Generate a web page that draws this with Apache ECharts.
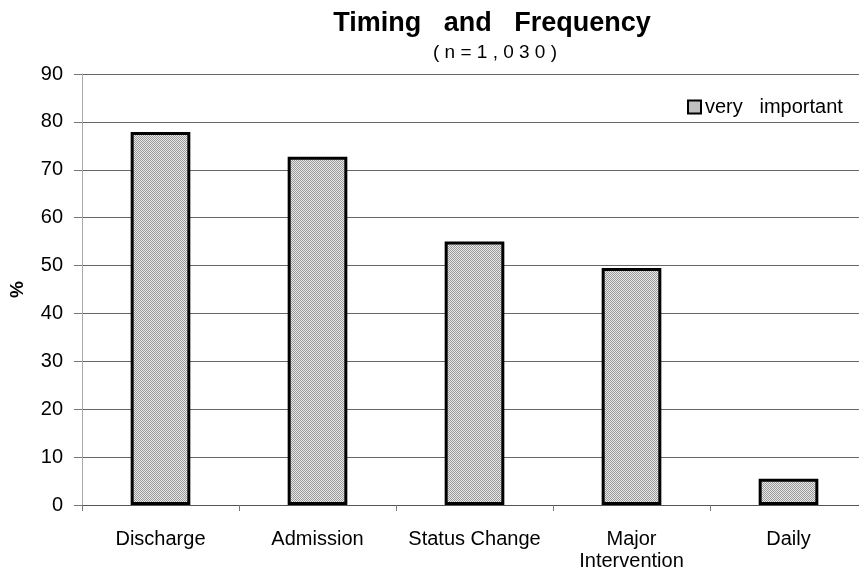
<!DOCTYPE html>
<html>
<head>
<meta charset="utf-8">
<title>Timing and Frequency</title>
<script src="https://cdn.jsdelivr.net/npm/echarts@6/dist/echarts.min.js"></script>
<style>
  html, body { margin: 0; padding: 0; background: #fff; }
  #chart { width: 859px; height: 578px; }
</style>
</head>
<body>
<div id="chart"></div>
<script>
// Survey categories and share of respondents rating each as "very important"
const categories = ['Discharge', 'Admission', 'Status Change', 'Major\nIntervention', 'Daily'];
const veryImportant = [77.9, 72.7, 55.0, 49.5, 5.5];
const seriesName = 'very important';
const yMin = 0, yMax = 90, yStep = 10;

// Fine stipple fill for the bars
function stipple() {
  const c = document.createElement('canvas');
  c.width = 4; c.height = 4;
  const g = c.getContext('2d');
  for (let y = 0; y < 4; y++) {
    for (let x = 0; x < 4; x++) {
      g.fillStyle = ((x + y) % 2 === 0) ? '#999999' : '#e8e8e8';
      g.fillRect(x, y, 1, 1);
    }
  }
  return { image: c, repeat: 'repeat' };
}

const font = '"Liberation Sans", Arial, Helvetica, sans-serif';
const chart = echarts.init(document.getElementById('chart'), null, { renderer: 'canvas' });

chart.setOption({
  animation: false,
  backgroundColor: '#fff',
  textStyle: { fontFamily: font, color: '#000' },
  title: [
    {
      text: 'Timing   and   Frequency',
      left: 487, top: 5, textAlign: 'center',
      textStyle: { fontFamily: font, fontSize: 27, fontWeight: 'bold', color: '#000' }
    },
    {
      text: '( n = 1 , 0 3 0 )',
      left: 490, top: 38, textAlign: 'center',
      textStyle: { fontFamily: font, fontSize: 19, fontWeight: 'normal', color: '#000' }
    }
  ],
  legend: {
    left: 682, top: 92,
    itemWidth: 13, itemHeight: 13, itemGap: 6,
    icon: 'rect',
    formatter: n => n.replace(' ', '   '),
    textStyle: { fontFamily: font, fontSize: 20, color: '#000', padding: [0, 0, 0, -1] },
    data: [seriesName]
  },
  grid: { left: 82, top: 74, width: 785, height: 431, containLabel: false, outerBoundsMode: 'none' },
  xAxis: {
    type: 'category',
    data: categories,
    axisLine: { lineStyle: { color: '#555', width: 1 } },
    axisTick: { show: true, length: 6, lineStyle: { color: '#777' } },
    axisLabel: {
      fontFamily: font, fontSize: 20, color: '#000', margin: 23,
      lineHeight: 22, interval: 0
    }
  },
  yAxis: {
    type: 'value',
    min: yMin, max: yMax, interval: yStep,
    name: '%',
    nameLocation: 'middle',
    nameGap: 55,
    nameTextStyle: { fontFamily: font, fontSize: 19, fontWeight: 'bold', color: '#000' },
    axisLine: { show: true, lineStyle: { color: '#aaa', width: 1 } },
    axisTick: { show: true, length: 8, lineStyle: { color: '#777' } },
    axisLabel: { fontFamily: font, fontSize: 20, color: '#000', margin: 19 },
    splitLine: { show: true, lineStyle: { color: '#666', width: 1 } }
  },
  series: [{
    name: seriesName,
    type: 'bar',
    data: veryImportant,
    barWidth: '38%',
    itemStyle: { color: stipple(), borderColor: '#000', borderWidth: 3 }
  }]
});
</script>
</body>
</html>
